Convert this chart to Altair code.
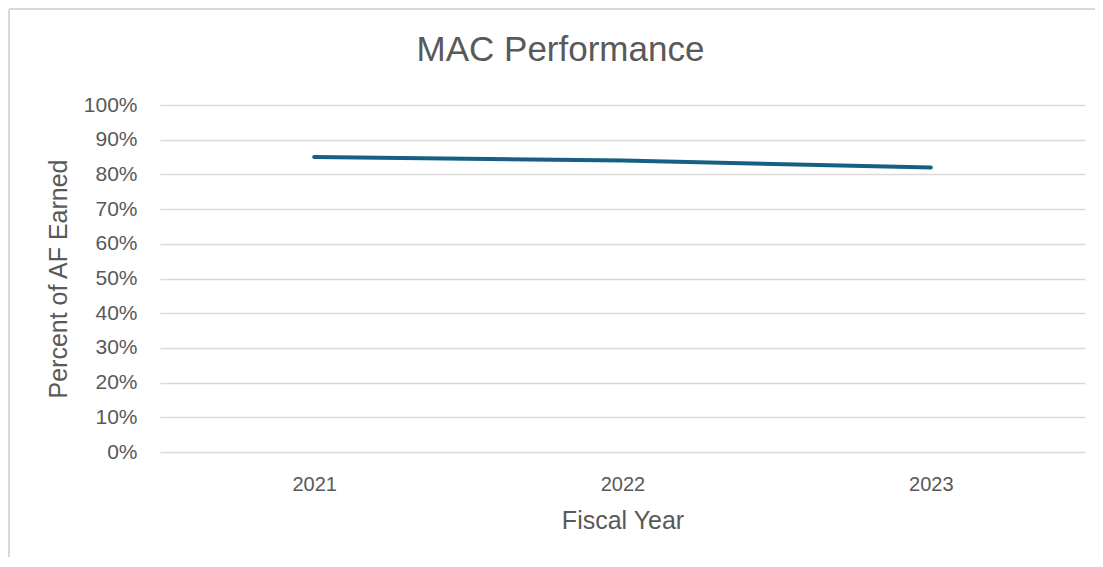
import altair as alt
import pandas as pd

years = ["2021", "2022", "2023"]
values = [0.85, 0.84, 0.82]
y_ticks = [0.0, 0.1, 0.2, 0.3, 0.4, 0.5, 0.6, 0.7, 0.8, 0.9, 1.0]

df = pd.DataFrame({"year": years, "value": values})

FONT = "Liberation Sans"
TXT = "#595959"
GRID = "#D9D9D9"

line = alt.Chart(df).mark_line(color="#156082", strokeWidth=4, strokeCap="round").encode(
    x=alt.X("year:O", sort=years,
            scale=alt.Scale(type="point", padding=0.5),
            axis=alt.Axis(title="Fiscal Year", labelAngle=0, ticks=False, domain=False,
                          grid=False, labelPadding=22, titlePadding=14)),
    y=alt.Y("value:Q", scale=alt.Scale(domain=[0, 1]),
            axis=alt.Axis(title="Percent of AF Earned", format=".0%",
                          values=y_ticks, labelOverlap=False,
                          ticks=False, domain=False, labelPadding=23, titlePadding=12,
                          labelFontSize=21,
                          gridColor=GRID, gridWidth=1.5)),
)

border_top = alt.Chart(df).mark_rule(color=GRID, strokeWidth=2).encode(
    x=alt.value(-151), x2=alt.value(1000), y=alt.value(-96)
)
border_left = alt.Chart(df).mark_rule(color=GRID, strokeWidth=2).encode(
    x=alt.value(-151), y=alt.value(-96), y2=alt.value(452)
)

chart = alt.layer(border_top, border_left, line).properties(
    width=925,
    height=347,
    title=alt.TitleParams("MAC Performance", fontSize=35, font=FONT, color=TXT,
                          fontWeight="normal", anchor="middle", dx=-62, offset=-60),
    autosize=alt.AutoSizeParams(type="none"),
    padding={"left": 152, "top": 97, "right": 10, "bottom": 105},
).configure_view(stroke=None).configure_axis(
    labelFont=FONT, titleFont=FONT, labelColor=TXT, titleColor=TXT,
    labelFontSize=20, titleFontSize=25, titleFontWeight="normal",
)

chart.save("out.html", embed_options={"renderer": "svg", "actions": False})
